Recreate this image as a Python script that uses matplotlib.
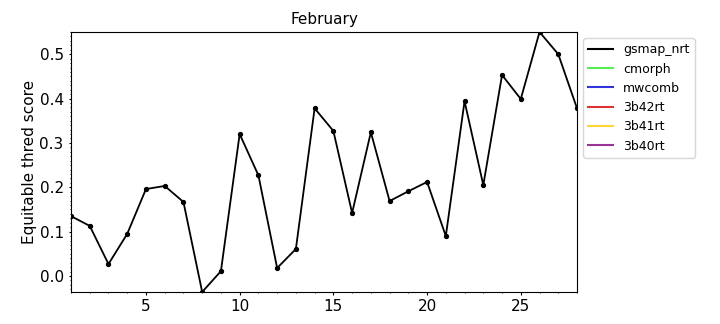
import numpy as np
import matplotlib
matplotlib.use("Agg")
import matplotlib.pyplot as plt
from matplotlib.ticker import MultipleLocator
from matplotlib.lines import Line2D

# Daily ETS values for February
days = list(range(1, 29))
gsmap_nrt = [0.135, 0.113, 0.027, 0.095, 0.196, 0.203, 0.167, -0.036, 0.011, 0.320,
             0.227, 0.018, 0.061, 0.378, 0.327, 0.142, 0.324, 0.169, 0.191, 0.212,
             0.090, 0.394, 0.205, 0.453, 0.399, 0.550, 0.500, 0.378]
# other products have no data this month
cmorph = []
mwcomb = []
b42rt = []
b41rt = []
b40rt = []

names = ["gsmap_nrt", "cmorph", "mwcomb", "3b42rt", "3b41rt", "3b40rt"]
colors = ["black", "#55ee55", "#3333dd", "#dd3333", "#ffd633", "#993399"]
series = [gsmap_nrt, cmorph, mwcomb, b42rt, b41rt, b40rt]

fig = plt.figure(figsize=(7.2, 3.24), dpi=100)
ax = fig.add_axes([0.0986, 0.0988, 0.7028, 0.8024])

for vals, c in zip(series, colors):
    ax.plot(days[:len(vals)], vals, color=c, marker="o", markersize=2.8, lw=1.3)

ax.set_xlim(days[0], days[-1])
ax.set_ylim(min(gsmap_nrt), max(gsmap_nrt))
ax.xaxis.set_major_locator(MultipleLocator(5))
ax.xaxis.set_minor_locator(MultipleLocator(1))
ax.yaxis.set_major_locator(MultipleLocator(0.1))
ax.yaxis.set_minor_locator(MultipleLocator(0.01))
ax.tick_params(which="major", labelsize=11, length=1.8)
ax.tick_params(which="minor", length=1.0)

ax.set_title("February", fontsize=11)
ax.set_ylabel("Equitable thred score", fontsize=11, labelpad=1.5)

handles = [Line2D([], [], color=c, lw=1.5) for c in colors]
ax.legend(handles, names, loc="upper left", bbox_to_anchor=(1.0, 1.0), fontsize=9)

fig.savefig("out.png", dpi=100)
